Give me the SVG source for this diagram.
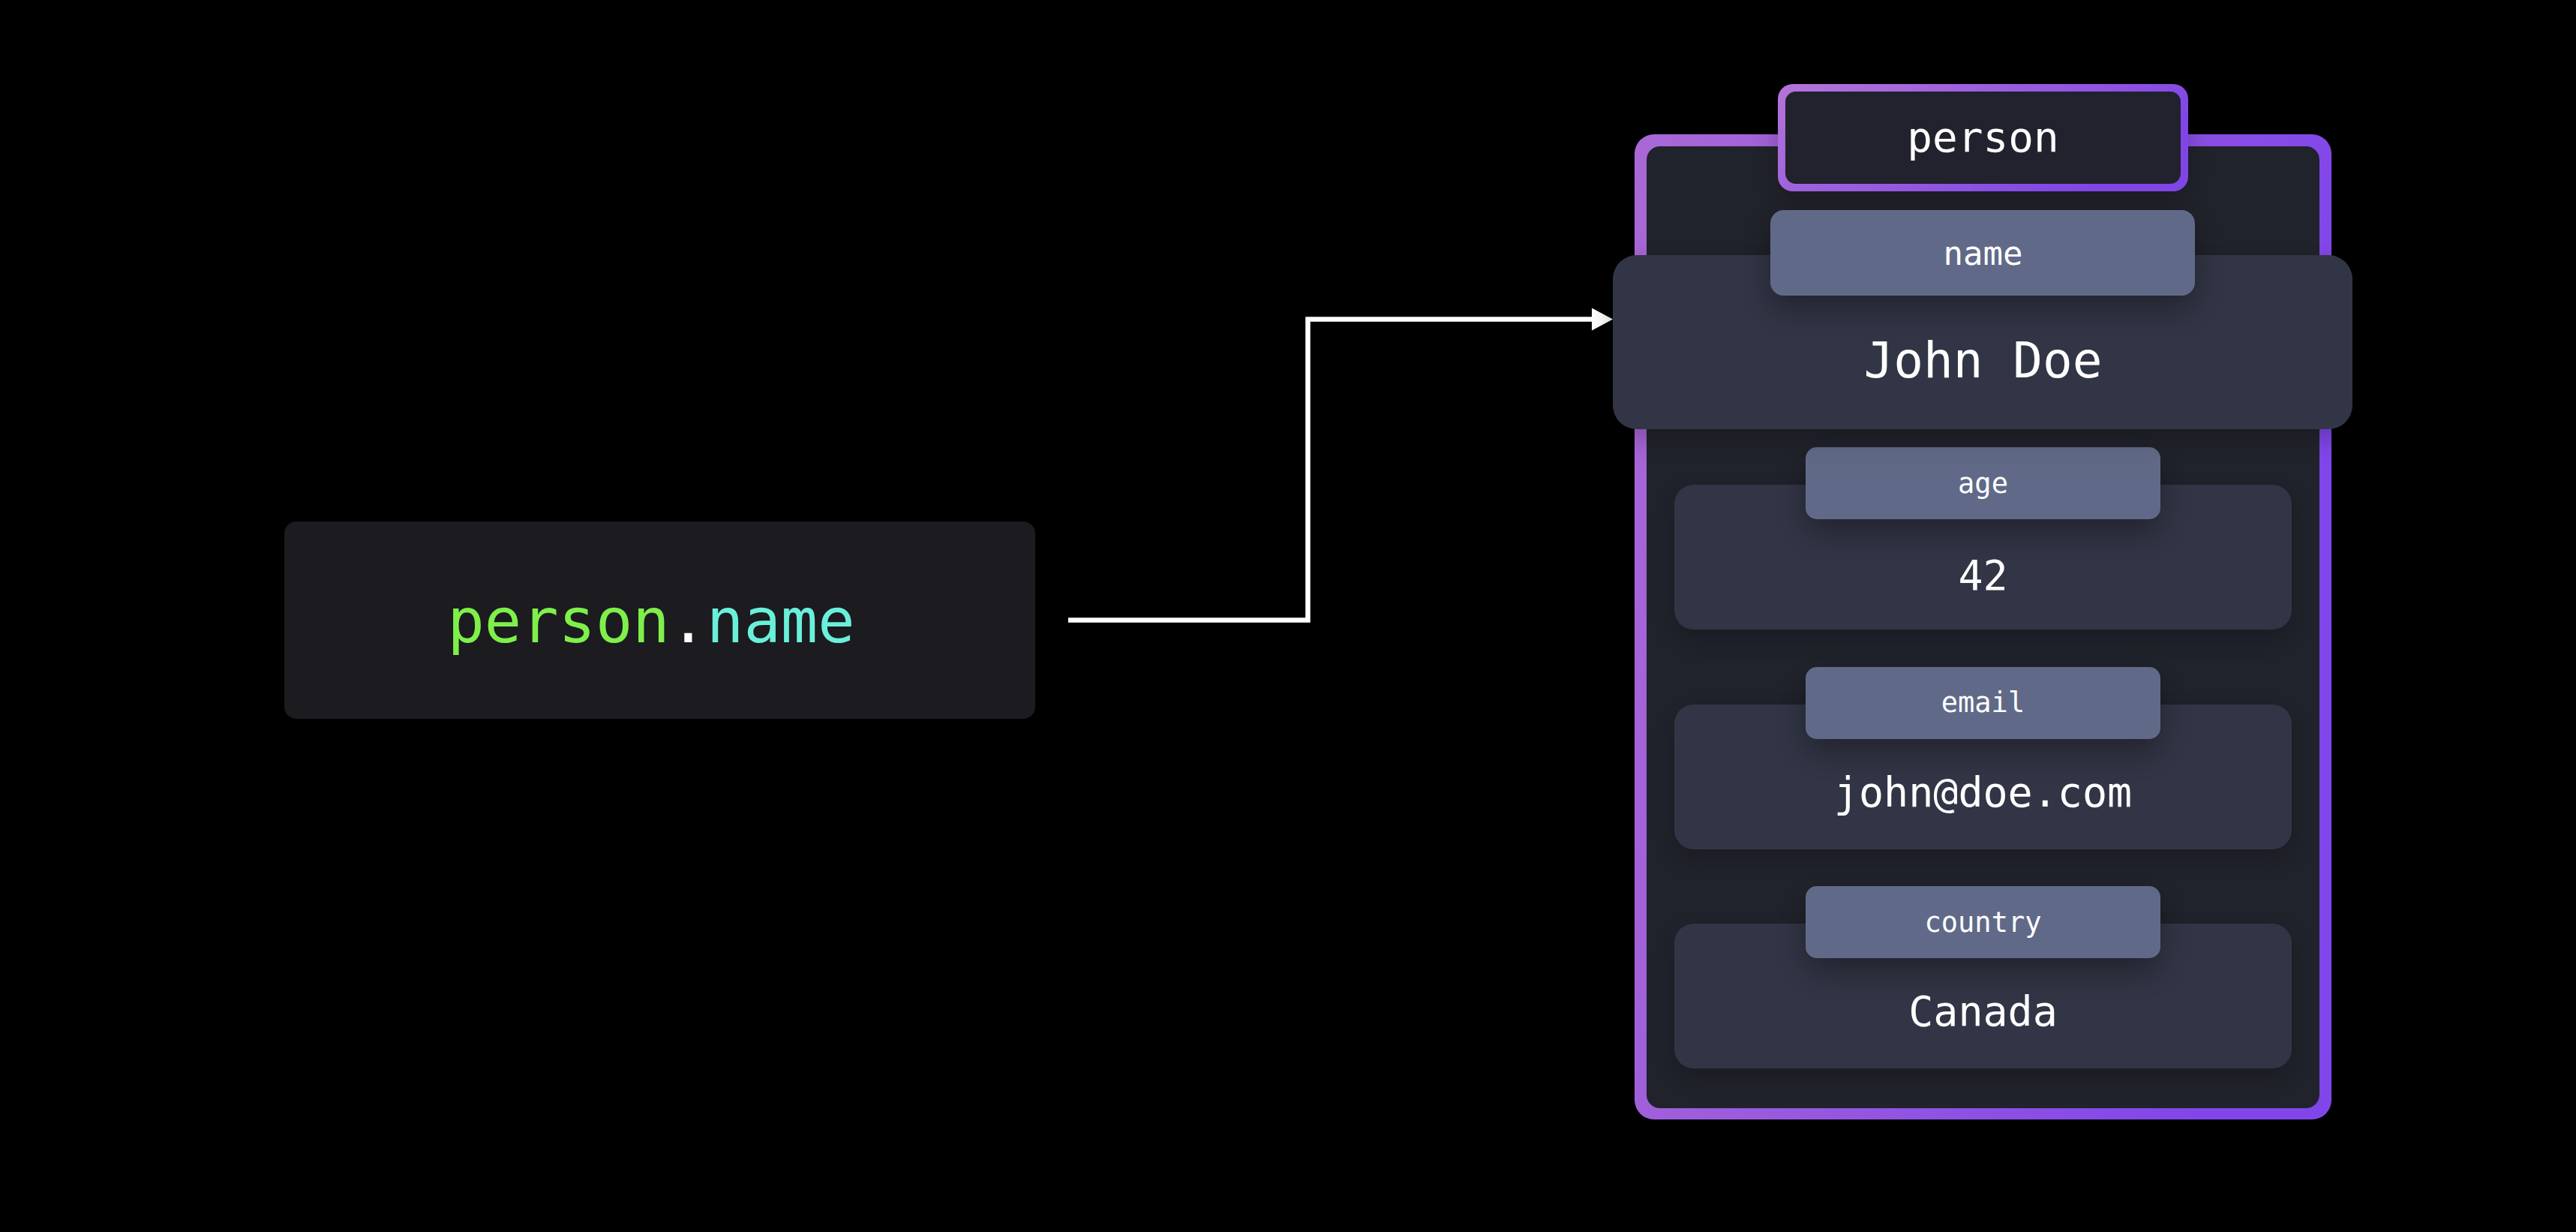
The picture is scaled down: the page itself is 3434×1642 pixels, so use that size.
<svg xmlns="http://www.w3.org/2000/svg" width="3434" height="1642" viewBox="0 0 3434 1642">
  <defs>
    <linearGradient id="purple" x1="0" y1="0" x2="1" y2="0.25">
      <stop offset="0" stop-color="#aa68d6"/>
      <stop offset="1" stop-color="#8146ea"/>
    </linearGradient>
    <linearGradient id="purpleTitle" x1="0" y1="0" x2="1" y2="0.4">
      <stop offset="0" stop-color="#b474d8"/>
      <stop offset="1" stop-color="#7f45e6"/>
    </linearGradient>
    <filter id="shadow" x="-30%" y="-40%" width="160%" height="200%">
      <feDropShadow dx="0" dy="18" stdDeviation="22" flood-color="#000000" flood-opacity="0.35"/>
    </filter>
    <filter id="shadowSoft" x="-20%" y="-30%" width="140%" height="170%">
      <feDropShadow dx="0" dy="12" stdDeviation="18" flood-color="#000000" flood-opacity="0.25"/>
    </filter>
    <marker id="arrow" markerWidth="28" markerHeight="30" refX="0" refY="15" orient="auto" markerUnits="userSpaceOnUse">
      <polygon points="0,0 28,15 0,30" fill="#ffffff"/>
    </marker>
    <style>
      .mono { font-family: "DejaVu Sans Mono", "Liberation Mono", monospace; }
      .label-box { fill: #616a88; }
      .value-box { fill: #333645; }
      .label-text { fill: #ffffff; font-size: 37px; text-anchor: middle; }
      .value-text { fill: #ffffff; font-size: 55px; text-anchor: middle; }
    </style>
  </defs>

  <rect x="0" y="0" width="3434" height="1642" fill="#000000"/>

  <g id="expression">
    <rect x="379" y="695" width="1001" height="263" rx="16" fill="#1b1b20"/>
    <text class="mono" x="868" y="856" font-size="82" text-anchor="middle"><tspan fill="#7ff04a">person</tspan><tspan fill="#ffffff">.</tspan><tspan fill="#6af0da">name</tspan></text>
  </g>

  <g id="connectors">
    <path d="M1424,826.5 H1743.5 V425.5 H2122" fill="none" stroke="#ffffff" stroke-width="6.5" stroke-linejoin="miter" marker-end="url(#arrow)"/>
  </g>

  <g id="person-object">
    <rect x="2179" y="179" width="929" height="1313" rx="26" fill="url(#purple)"/>
    <rect x="2195" y="195" width="897" height="1282" rx="18" fill="#21232c"/>

    <g id="title-person" filter="url(#shadowSoft)">
      <rect x="2370" y="112" width="547" height="143" rx="20" fill="url(#purpleTitle)"/>
      <rect x="2380" y="122" width="527" height="123" rx="14" fill="#22242d"/>
      <text class="mono" x="2643.5" y="202" font-size="56" fill="#ffffff" text-anchor="middle">person</text>
    </g>

    <g id="field-age">
      <rect class="value-box" x="2232" y="646" width="823" height="193" rx="26" filter="url(#shadowSoft)"/>
      <rect class="label-box" x="2407" y="596" width="473" height="96" rx="15" filter="url(#shadow)"/>
      <text class="mono label-text" x="2643.5" y="657">age</text>
      <text class="mono value-text" x="2643.5" y="786">42</text>
    </g>

    <g id="field-email">
      <rect class="value-box" x="2232" y="939" width="823" height="193" rx="26" filter="url(#shadowSoft)"/>
      <rect class="label-box" x="2407" y="889" width="473" height="96" rx="15" filter="url(#shadow)"/>
      <text class="mono label-text" x="2643.5" y="949">email</text>
      <text class="mono value-text" x="2643.5" y="1075">john@doe.com</text>
    </g>

    <g id="field-country">
      <rect class="value-box" x="2232" y="1231" width="823" height="193" rx="26" filter="url(#shadowSoft)"/>
      <rect class="label-box" x="2407" y="1181" width="473" height="96" rx="15" filter="url(#shadow)"/>
      <text class="mono label-text" x="2643.5" y="1242">country</text>
      <text class="mono value-text" x="2643.5" y="1367">Canada</text>
    </g>

    <g id="field-name">
      <rect class="value-box" x="2150" y="340" width="986" height="232" rx="32" filter="url(#shadowSoft)"/>
      <rect class="label-box" x="2360" y="280" width="566" height="114" rx="18" filter="url(#shadow)"/>
      <text class="mono" x="2643.5" y="353" font-size="44" fill="#ffffff" text-anchor="middle">name</text>
      <text class="mono" x="2643.5" y="503" font-size="66" fill="#ffffff" text-anchor="middle">John Doe</text>
    </g>
  </g>
</svg>
